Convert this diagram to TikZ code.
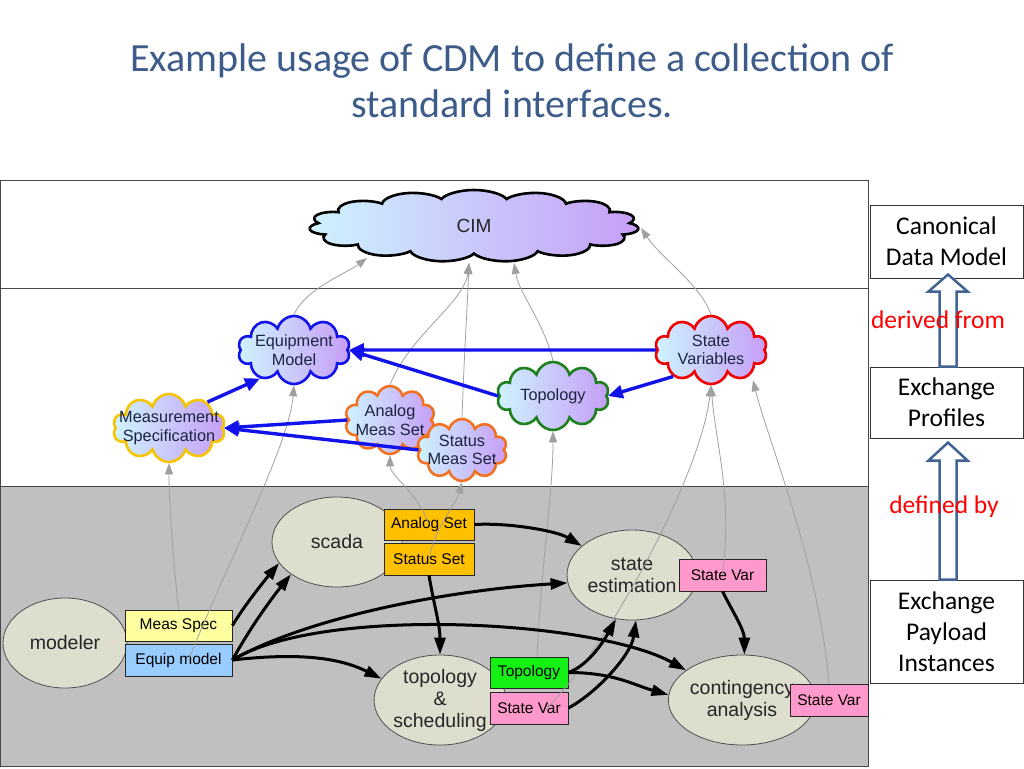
\documentclass[tikz,border=0pt]{standalone}
\usepackage{fontspec}
\setmainfont{Liberation Sans}
\newfontfamily\calibrifont{Carlito}
\usetikzlibrary{positioning,calc,shapes.symbols,shapes.geometric,arrows.meta}

\definecolor{titleblue}{RGB}{62,92,138}
\definecolor{bandgrey}{RGB}{192,192,192}
\definecolor{frameline}{RGB}{70,70,70}
\definecolor{ovalfill}{RGB}{222,222,206}
\definecolor{ovaledge}{RGB}{80,80,80}
\definecolor{cloudleft}{RGB}{206,243,255}
\definecolor{cloudright}{RGB}{198,158,246}
\definecolor{cloudtext}{RGB}{28,36,64}
\definecolor{hollowblue}{RGB}{66,100,146}
\definecolor{profileblue}{RGB}{18,18,235}
\definecolor{goldedge}{RGB}{246,196,0}
\definecolor{orangeedge}{RGB}{242,114,34}
\definecolor{greenedge}{RGB}{30,128,30}
\definecolor{redge}{RGB}{240,0,0}
\definecolor{setorange}{RGB}{255,192,0}
\definecolor{varpink}{RGB}{255,153,204}
\definecolor{specyellow}{RGB}{255,255,160}
\definecolor{equipblue}{RGB}{153,204,255}
\definecolor{topogreen}{RGB}{20,240,20}
\definecolor{tracegrey}{RGB}{160,160,160}

\tikzset{
  profile/.style={cloud, cloud puffs=10, cloud ignores aspect, draw=#1, line width=2.6pt,
    left color=cloudleft, right color=cloudright, text=cloudtext, align=center,
    inner sep=-5pt, minimum width=112pt, minimum height=68pt,
    font=\fontsize{16.3}{18.5}\selectfont},
  appoval/.style={ellipse, draw=ovaledge, line width=0.8pt, fill=ovalfill, align=center,
    minimum width=130pt, minimum height=90pt, inner sep=0pt, text=black!85,
    font=\fontsize{19.5}{22}\selectfont},
  databox/.style={draw=black!85, line width=0.8pt, fill=#1, inner sep=0pt,
    minimum height=31pt, font=\fontsize{15.5}{18}\selectfont},
  levelbox/.style={draw=black!80, line width=1pt, minimum width=153pt, align=center,
    inner sep=0pt, font=\calibrifont\fontsize{25.5}{31}\selectfont},
  hollowarrow/.style={draw=hollowblue, line width=2.5pt, fill=white, line join=miter},
  derive/.style={draw=profileblue, line width=3.4pt, -{Triangle[length=15pt,width=13pt]}},
  flow/.style={draw=black, line width=3pt, -{Triangle[length=17pt,width=11pt]}},
  greyref/.style={draw=tracegrey, line width=0.8pt, -{Triangle[length=11pt,width=8pt]}}
}

\begin{document}
\begin{tikzpicture}[x=1pt,y=-1pt]
\useasboundingbox (0,0) rectangle (1024,768);

% title
\node[text=titleblue, align=center, font=\calibrifont\fontsize{40}{46}\selectfont]
    (title) at (512,81) {Example usage of CDM to define a collection of\\standard interfaces.};

% three layers
\draw[frameline, line width=1pt] (0,180) rectangle (868,288);
\draw[frameline, line width=1pt] (0,288) rectangle (868,486);
\draw[frameline, line width=1pt, fill=bandgrey] (0,486) rectangle (868,766);

% right hand legend
\node[levelbox, minimum height=73pt] (cdm) at (946.5,241.5) {Canonical\\Data Model};
\node[levelbox, minimum height=71pt] (profiles) at (946.5,402.5) {Exchange\\Profiles};
\node[levelbox, minimum height=103pt] (payload) at (946.5,631.5) {Exchange\\Payload\\Instances};
\draw[hollowarrow] ($(profiles.north)+(-7,0)$) -- ($(cdm.south)+(-7,13)$)
    -- ($(cdm.south)+(-18,13)$) -- ($(cdm.south)+(1.5,-4)$) -- ($(cdm.south)+(21,13)$)
    -- ($(cdm.south)+(10,13)$) -- ($(profiles.north)+(10,0)$) -- cycle;
\draw[hollowarrow] ($(payload.north)+(-7,0)$) -- ($(profiles.south)+(-7,22)$)
    -- ($(profiles.south)+(-18,22)$) -- ($(profiles.south)+(1.5,4)$) -- ($(profiles.south)+(21,22)$)
    -- ($(profiles.south)+(10,22)$) -- ($(payload.north)+(10,0)$) -- cycle;
\node[text=red, font=\calibrifont\fontsize{25.5}{29}\selectfont] (derivedlbl) at (938,320) {derived from};
\node[text=red, font=\calibrifont\fontsize{25.5}{29}\selectfont] (definedlbl) at (944,507) {defined by};

% clouds
\node[profile=black, cloud puffs=15, minimum width=120pt, minimum height=72pt,
    xscale=2.75, transform shape] (cim) at (474,226) {};
\node[text=black!85, font=\fontsize{19}{21}\selectfont] (cimlabel) at (cim.center) {CIM};
\node[profile=profileblue] (equipment) at (294,350) {Equipment\\Model};
\node[profile=goldedge, inner sep=-12pt] (measspec) at (169,428) {Measurement\\Specification};
\node[profile=orangeedge, minimum width=90pt] (analogms) at (390,420) {Analog\\Meas Set};
\node[profile=orangeedge, minimum width=90pt, minimum height=62pt] (statusms) at (462,450) {Status\\Meas Set};
\node[profile=greenedge] (topology) at (553,396) {Topology};
\node[profile=redge] (statevars) at (711,350) {State\\Variables};

% applications
\node[appoval, minimum width=124pt] (modeler) at (65,643) {modeler};
\node[appoval] (scada) at (337,542) {scada};
\node[appoval] (stateest) at (632,575) {state\\estimation};
\node[appoval] (toposched) at (440,700) {topology\\\&\\scheduling};
\node[appoval] (contingency) at (742,700) {contingency\\analysis};

% payloads
\node[databox=specyellow, minimum width=107pt] (measbox) at (178.5,625.5) {Meas Spec};
\node[databox=equipblue, minimum width=107pt, minimum height=32pt] (equipbox) at (178.5,660) {Equip model};
\node[databox=setorange, minimum width=90pt] (analogbox) at (429,524.5) {Analog Set};
\node[databox=setorange, minimum width=90pt, minimum height=32pt] (statusbox) at (429,559) {Status Set};
\node[databox=varpink, minimum width=87pt, minimum height=32pt] (svse) at (722.5,575) {State Var};
\node[databox=topogreen, minimum width=78pt] (topobox) at (529,672.5) {Topology};
\node[databox=varpink, minimum width=78pt, minimum height=32pt] (svts) at (529,708) {State Var};
\node[databox=varpink, minimum width=78pt, minimum height=32pt] (svca) at (829,700) {State Var};

% grey references
\draw[greyref] (measbox.north) .. controls +(-6,-60) and +(0,40) .. (measspec.south);
\draw[greyref] ([xshift=10pt]equipbox.center) .. controls +(40,-100) and +(-5,60) .. (equipment.south);
\draw[greyref] (equipment.north) .. controls +(10,-25) and +(-20,15) .. ($(cim.center)+(-107,32)$);
\draw[greyref] (analogbox.center) .. controls +(-10,-30) and +(0,20) .. (analogms.south);
\draw[greyref] (statusbox.center) .. controls +(5,-30) and +(-5,20) .. (statusms.south);
\draw[greyref] (analogms.north) .. controls +(20,-50) and +(-5,40) .. ($(cim.center)+(-5,37)$);
\draw[greyref] (statusms.north) .. controls +(2,-60) and +(-2,50) .. ($(cim.center)+(-5,37)$);
\draw[greyref] (topology.north) .. controls +(-10,-40) and +(5,30) .. ($(cim.center)+(40,37)$);
\draw[greyref] (statevars.north) .. controls +(-10,-30) and +(20,30) .. ($(cim.center)+(167,2)$);
\draw[greyref] ([xshift=8pt]topobox.north) .. controls +(5,-100) and +(0,60) .. (topology.south);
\draw[greyref] ([xshift=18pt]svts.center) .. controls +(60,-60) and +(-10,90) .. (statevars.south);
\draw[greyref] (svse.center) .. controls +(10,-80) and +(5,60) .. (statevars.south);
\draw[greyref] (svca.north) .. controls +(-10,-120) and +(15,60) .. ($(statevars.south)+(42,-5)$);

% data flows
\draw[flow] (measbox.east) .. controls +(12,-20) and +(-15,18) .. (scada.200);
\draw[flow] (equipbox.east) .. controls +(22,-40) and +(-12,15) .. (scada.215);
\draw[flow] (equipbox.east) .. controls +(70,-40) and +(-130,8) .. (stateest.187);
\draw[flow] (equipbox.east) .. controls +(90,-55) and +(-90,-50) .. (contingency.152);
\draw[flow] (equipbox.east) .. controls +(70,-8) and +(-40,-20) .. (toposched.160);
\draw[flow] (analogbox.east) .. controls +(35,-2) and +(-25,-15) .. (stateest.150);
\draw[flow] (statusbox.south) .. controls +(5,30) and +(0,-30) .. (toposched.north);
\draw[flow] (svse.south) .. controls +(10,20) and +(0,-25) .. (contingency.87);
\draw[flow] (topobox.east) .. controls +(22,-8) and +(-10,18) .. (stateest.250);
\draw[flow] (svts.east) .. controls +(28,-15) and +(-5,35) .. (stateest.275);
\draw[flow] (topobox.east) .. controls +(45,0) and +(-35,-10) .. (contingency.176);

% profile dependencies
\draw[derive] (statevars.west) -- (equipment.east);
\draw[derive] (topology.west) -- (equipment.east);
\draw[derive] (statevars.215) -- (topology.east);
\draw[derive] (measspec.34) -- (equipment.220);
\draw[derive] (analogms.west) -- (measspec.east);
\draw[derive] (statusms.west) -- (measspec.east);
\end{tikzpicture}
\end{document}
